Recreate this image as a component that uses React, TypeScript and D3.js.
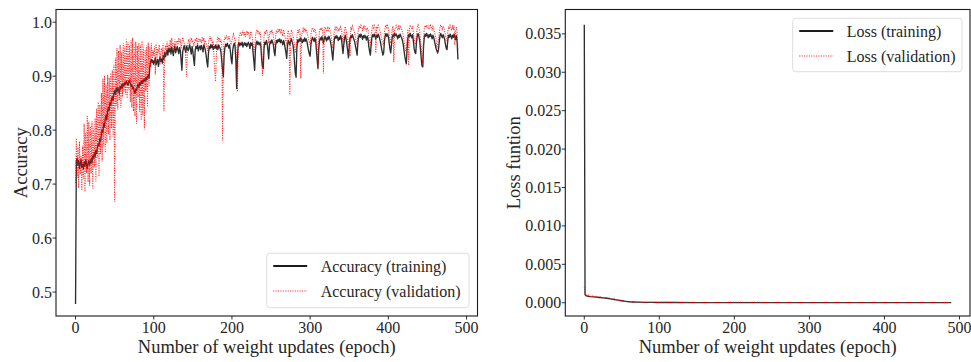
import React from 'react';
import * as d3 from 'd3';

// ---------------- DATA ----------------
const trainAcc = [
  0.478, 0.742, 0.748, 0.735, 0.744, 0.729, 0.738, 0.746, 0.731, 0.737,
  0.728, 0.741, 0.733, 0.745, 0.737, 0.729, 0.739, 0.744, 0.735, 0.741,
  0.747, 0.739, 0.752, 0.748, 0.758, 0.751, 0.763, 0.757, 0.769, 0.775,
  0.771, 0.784, 0.779, 0.792, 0.801, 0.796, 0.812, 0.806, 0.821, 0.828,
  0.819, 0.835, 0.842, 0.836, 0.851, 0.846, 0.858, 0.862, 0.855, 0.868,
  0.873, 0.866, 0.878, 0.871, 0.879, 0.874, 0.868, 0.881, 0.876, 0.884,
  0.879, 0.886, 0.882, 0.889, 0.885, 0.891, 0.887, 0.883, 0.889, 0.893,
  0.886, 0.881, 0.884, 0.877, 0.879, 0.872, 0.868, 0.876, 0.873, 0.881,
  0.885, 0.879, 0.888, 0.884, 0.891, 0.886, 0.893, 0.889, 0.895, 0.891,
  0.897, 0.893, 0.899, 0.902, 0.896, 0.918, 0.927, 0.931, 0.925, 0.929,
  0.922, 0.928, 0.934, 0.921, 0.926, 0.931, 0.918, 0.929, 0.935, 0.927,
  0.932, 0.924, 0.938, 0.931, 0.944, 0.936, 0.942, 0.948, 0.939, 0.951,
  0.945, 0.952, 0.941, 0.954, 0.947, 0.938, 0.951, 0.956, 0.943, 0.949,
  0.955, 0.948, 0.942, 0.953, 0.947, 0.929, 0.911, 0.945, 0.952, 0.957,
  0.949, 0.944, 0.956, 0.951, 0.947, 0.953, 0.958, 0.949, 0.941, 0.955,
  0.946, 0.932, 0.920, 0.948, 0.955, 0.951, 0.958, 0.947, 0.953, 0.956,
  0.949, 0.957, 0.952, 0.945, 0.958, 0.954, 0.948, 0.939, 0.926, 0.917,
  0.943, 0.955, 0.951, 0.959, 0.953, 0.957, 0.949, 0.955, 0.952, 0.958,
  0.951, 0.956, 0.949, 0.958, 0.954, 0.951, 0.943, 0.928, 0.912, 0.899,
  0.938, 0.953, 0.959, 0.955, 0.961, 0.957, 0.952, 0.958, 0.946, 0.931,
  0.923, 0.948, 0.957, 0.961, 0.955, 0.929, 0.877, 0.932, 0.958, 0.962,
  0.956, 0.961, 0.958, 0.963, 0.954, 0.959, 0.962, 0.957, 0.961, 0.955,
  0.959, 0.963, 0.958, 0.951, 0.962, 0.957, 0.961, 0.944, 0.928, 0.911,
  0.948, 0.961, 0.965, 0.959, 0.963, 0.958, 0.962, 0.955, 0.931, 0.918,
  0.914, 0.951, 0.963, 0.959, 0.966, 0.961, 0.948, 0.932, 0.957, 0.965,
  0.961, 0.967, 0.963, 0.958, 0.945, 0.938, 0.959, 0.966, 0.962, 0.968,
  0.964, 0.969, 0.962, 0.967, 0.963, 0.958, 0.966, 0.961, 0.952, 0.944,
  0.933, 0.957, 0.966, 0.962, 0.958, 0.965, 0.969, 0.963, 0.958, 0.947,
  0.925, 0.906, 0.898, 0.952, 0.967, 0.963, 0.969, 0.965, 0.971, 0.966,
  0.962, 0.968, 0.964, 0.971, 0.965, 0.969, 0.963, 0.955, 0.947, 0.941,
  0.937, 0.959, 0.967, 0.972, 0.968, 0.964, 0.971, 0.966, 0.948, 0.929,
  0.914, 0.951, 0.966, 0.971, 0.967, 0.973, 0.968, 0.961, 0.969, 0.974,
  0.969, 0.965, 0.972, 0.968, 0.974, 0.970, 0.963, 0.955, 0.942, 0.930,
  0.951, 0.968, 0.974, 0.970, 0.975, 0.971, 0.966, 0.972, 0.968, 0.975,
  0.969, 0.956, 0.942, 0.958, 0.971, 0.976, 0.968, 0.958, 0.947, 0.934,
  0.955, 0.969, 0.975, 0.971, 0.977, 0.972, 0.968, 0.963, 0.955, 0.948,
  0.939, 0.961, 0.973, 0.977, 0.972, 0.978, 0.974, 0.968, 0.975, 0.971,
  0.976, 0.972, 0.967, 0.974, 0.969, 0.955, 0.946, 0.939, 0.958, 0.972,
  0.977, 0.973, 0.978, 0.974, 0.969, 0.976, 0.972, 0.978, 0.974, 0.968,
  0.962, 0.954, 0.946, 0.939, 0.943, 0.965, 0.975, 0.979, 0.974, 0.978,
  0.973, 0.962, 0.951, 0.943, 0.958, 0.972, 0.977, 0.973, 0.979, 0.975,
  0.978, 0.974, 0.969, 0.976, 0.972, 0.978, 0.974, 0.971, 0.966, 0.959,
  0.948, 0.937, 0.929, 0.923, 0.952, 0.971, 0.977, 0.973, 0.979, 0.975,
  0.971, 0.977, 0.965, 0.951, 0.944, 0.942, 0.963, 0.975, 0.979, 0.974,
  0.966, 0.951, 0.933, 0.919, 0.917, 0.955, 0.972, 0.978, 0.974, 0.979,
  0.975, 0.971, 0.977, 0.973, 0.978, 0.974, 0.969, 0.976, 0.972, 0.965,
  0.958, 0.951, 0.947, 0.943, 0.948, 0.962, 0.974, 0.979, 0.975, 0.971,
  0.977, 0.973, 0.968, 0.959, 0.952, 0.949, 0.966, 0.976, 0.972, 0.978,
  0.974, 0.969, 0.976, 0.972, 0.978, 0.973, 0.968, 0.975, 0.962, 0.931,
];

const valAcc = [
  0.702, 0.785, 0.712, 0.768, 0.693, 0.779, 0.718, 0.752, 0.688, 0.771,
  0.709, 0.812, 0.686, 0.794, 0.721, 0.826, 0.704, 0.815, 0.697, 0.807,
  0.719, 0.816, 0.692, 0.803, 0.731, 0.822, 0.705, 0.840, 0.748, 0.852,
  0.714, 0.847, 0.756, 0.869, 0.742, 0.895, 0.771, 0.901, 0.758, 0.884,
  0.776, 0.903, 0.792, 0.897, 0.781, 0.906, 0.803, 0.912, 0.788, 0.921,
  0.667, 0.934, 0.845, 0.952, 0.838, 0.947, 0.856, 0.958, 0.841, 0.944,
  0.862, 0.961, 0.871, 0.955, 0.866, 0.968, 0.859, 0.963, 0.874, 0.957,
  0.852, 0.966, 0.842, 0.971, 0.835, 0.958, 0.826, 0.964, 0.812, 0.956,
  0.861, 0.962, 0.834, 0.958, 0.818, 0.965, 0.827, 0.953, 0.801, 0.949,
  0.872, 0.957, 0.843, 0.962, 0.881, 0.954, 0.917, 0.961, 0.926, 0.948,
  0.938, 0.955, 0.903, 0.962, 0.931, 0.951, 0.944, 0.958, 0.921, 0.947,
  0.952, 0.938, 0.961, 0.836, 0.945, 0.957, 0.939, 0.964, 0.948, 0.958,
  0.953, 0.967, 0.948, 0.971, 0.956, 0.962, 0.944, 0.968, 0.957, 0.963,
  0.966, 0.958, 0.971, 0.962, 0.968, 0.951, 0.963, 0.972, 0.966, 0.961,
  0.957, 0.932, 0.899, 0.948, 0.963, 0.969, 0.958, 0.964, 0.971, 0.962,
  0.967, 0.955, 0.961, 0.969, 0.964, 0.972, 0.958, 0.966, 0.970, 0.963,
  0.968, 0.961, 0.973, 0.965, 0.971, 0.958, 0.966, 0.962, 0.954, 0.947,
  0.962, 0.969, 0.974, 0.966, 0.971, 0.958, 0.965, 0.935, 0.912, 0.890,
  0.934, 0.967, 0.973, 0.965, 0.971, 0.962, 0.968, 0.957, 0.781, 0.944,
  0.966, 0.973, 0.968, 0.976, 0.971, 0.967, 0.974, 0.969, 0.963, 0.958,
  0.966, 0.974, 0.978, 0.971, 0.968, 0.952, 0.930, 0.871, 0.955, 0.972,
  0.978, 0.982, 0.974, 0.979, 0.985, 0.976, 0.981, 0.973, 0.978, 0.984,
  0.977, 0.982, 0.975, 0.969, 0.983, 0.978, 0.972, 0.961, 0.943, 0.952,
  0.974, 0.981, 0.986, 0.979, 0.984, 0.977, 0.982, 0.968, 0.943, 0.901,
  0.948, 0.973, 0.983, 0.978, 0.986, 0.981, 0.975, 0.961, 0.979, 0.984,
  0.978, 0.986, 0.981, 0.975, 0.962, 0.958, 0.977, 0.985, 0.980, 0.987,
  0.982, 0.988, 0.979, 0.985, 0.980, 0.974, 0.986, 0.981, 0.972, 0.964,
  0.957, 0.976, 0.985, 0.979, 0.865, 0.972, 0.986, 0.981, 0.975, 0.968,
  0.955, 0.943, 0.951, 0.972, 0.985, 0.980, 0.987, 0.983, 0.896, 0.974,
  0.982, 0.988, 0.983, 0.989, 0.984, 0.987, 0.981, 0.975, 0.968, 0.962,
  0.958, 0.977, 0.986, 0.990, 0.985, 0.981, 0.988, 0.983, 0.969, 0.951,
  0.917, 0.966, 0.984, 0.989, 0.985, 0.990, 0.986, 0.905, 0.985, 0.991,
  0.986, 0.982, 0.989, 0.985, 0.991, 0.987, 0.981, 0.973, 0.961, 0.952,
  0.968, 0.984, 0.990, 0.986, 0.992, 0.988, 0.983, 0.989, 0.985, 0.991,
  0.986, 0.975, 0.962, 0.974, 0.987, 0.992, 0.985, 0.976, 0.964, 0.955,
  0.972, 0.937, 0.991, 0.987, 0.993, 0.988, 0.984, 0.979, 0.971, 0.965,
  0.958, 0.978, 0.989, 0.993, 0.988, 0.994, 0.990, 0.984, 0.991, 0.987,
  0.992, 0.988, 0.983, 0.990, 0.985, 0.973, 0.964, 0.958, 0.975, 0.988,
  0.993, 0.989, 0.994, 0.990, 0.943, 0.992, 0.988, 0.994, 0.990, 0.985,
  0.979, 0.972, 0.965, 0.958, 0.962, 0.982, 0.991, 0.995, 0.990, 0.994,
  0.989, 0.978, 0.968, 0.961, 0.975, 0.988, 0.993, 0.926, 0.985, 0.991,
  0.994, 0.990, 0.985, 0.992, 0.988, 0.994, 0.990, 0.987, 0.982, 0.975,
  0.966, 0.957, 0.949, 0.944, 0.968, 0.987, 0.920, 0.989, 0.995, 0.991,
  0.987, 0.993, 0.981, 0.968, 0.961, 0.959, 0.979, 0.991, 0.995, 0.990,
  0.983, 0.968, 0.952, 0.938, 0.920, 0.972, 0.988, 0.994, 0.990, 0.995,
  0.991, 0.987, 0.993, 0.989, 0.994, 0.990, 0.985, 0.992, 0.988, 0.981,
  0.975, 0.968, 0.951, 0.962, 0.966, 0.979, 0.990, 0.995, 0.991, 0.987,
  0.993, 0.989, 0.984, 0.976, 0.969, 0.966, 0.982, 0.992, 0.988, 0.994,
  0.990, 0.985, 0.992, 0.988, 0.994, 0.958, 0.984, 0.991, 0.979, 0.948,
];

const lossTrainEpochs = [0, 1, 2, 3, 5, 8, 12, 16, 20, 25, 30, 35, 40, 45, 50, 55, 60, 65, 70, 80, 90, 100, 120, 150, 200, 250, 300, 350, 400, 450, 489];
const lossTrain = [0.0362, 0.00105, 0.00092, 0.00088, 0.00084, 0.0008, 0.00076, 0.00072, 0.00068, 0.00063, 0.00058, 0.0005, 0.00041, 0.00033, 0.00025, 0.00018, 0.00012, 0.00009, 0.00007, 0.00005, 0.00004, 0.00003, 0.00003, 0.00002, 0.00002, 0.00001, 0.00001, 0.00001, 0.00001, 0.00001, 0.00001];

const lossValEpochs = [0, 1, 2, 3, 4, 6, 8, 10, 12, 14, 17, 20, 23, 26, 30, 33, 36, 40, 43, 46, 50, 55, 60, 65, 70, 80, 90, 100, 110, 130, 150, 170, 190, 210, 250, 300, 350, 400, 450, 489];
const lossVal = [0.0021, 0.0013, 0.0009, 0.0011, 0.00085, 0.001, 0.0008, 0.00095, 0.00075, 0.0009, 0.0007, 0.00082, 0.00066, 0.0007, 0.00058, 0.00062, 0.0005, 0.00058, 0.00036, 0.0003, 0.00024, 0.00017, 0.00013, 0.0001, 0.00008, 0.00007, 0.00006, 0.00004, 0.00005, 0.00003, 0.00004, 0.00003, 0.00004, 0.00006, 0.00003, 0.00003, 0.00002, 0.00003, 0.00002, 0.00002];

const xTicks = [0, 100, 200, 300, 400, 500];
const accTicks = [0.5, 0.6, 0.7, 0.8, 0.9, 1.0];
const lossTicks = [0, 0.005, 0.01, 0.015, 0.02, 0.025, 0.03, 0.035];

const xLabel = 'Number of weight updates (epoch)';
const accLabels = ['Accuracy (training)', 'Accuracy (validation)'];
const lossLabels = ['Loss (training)', 'Loss (validation)'];

// ---------------- STYLE ----------------
const W = 971;
const H = 362;
const FONT = "'Liberation Serif', 'DejaVu Serif', serif";
const TEXT = '#262626';
const TRAIN_COLOR = '#1c1c1c';
const VAL_COLOR = '#ff0000';

type Pt = { x: number; y: number };

function Panel(props: {
  left: number; right: number; top: number; bottom: number;
  xDomain: [number, number]; yDomain: [number, number];
  train: Pt[]; val: Pt[]; yTicks: number[]; yFmt: (v: number) => string;
  yLabel: string; yLabelX: number; legend: string[];
  legendBox: { x: number; y: number; w: number; h: number };
}) {
  const { left, right, top, bottom, xDomain, yDomain, train, val, yTicks, yFmt, yLabel, yLabelX, legend, legendBox } = props;
  const x = d3.scaleLinear().domain(xDomain).range([left, right]);
  const y = d3.scaleLinear().domain(yDomain).range([bottom, top]);
  const line = d3.line<Pt>().x(d => x(d.x)).y(d => y(d.y));
  const clipId = `clip-${Math.round(left)}`;
  const lb = legendBox;
  const hx0 = lb.x + 6.5;
  const hx1 = lb.x + 40.5;
  const tx = lb.x + 54;
  const r1 = lb.y + 12.7;
  const r2 = lb.y + 37.7;
  return (
    <g>
      <defs>
        <clipPath id={clipId}>
          <rect x={left} y={top} width={right - left} height={bottom - top} />
        </clipPath>
      </defs>
      <g clipPath={`url(#${clipId})`}>
        <path d={line(train) || ''} fill="none" stroke={TRAIN_COLOR} strokeWidth={1.35} strokeOpacity={0.92} strokeLinejoin="round" />
        <path d={line(val) || ''} fill="none" stroke={VAL_COLOR} strokeWidth={1.05} strokeOpacity={0.85} strokeDasharray="1.1 1.3" />
      </g>
      <rect x={left} y={top} width={right - left} height={bottom - top} fill="none" stroke="#1a1a1a" strokeWidth={1.1} />
      {xTicks.map(t => (
        <g key={`x${t}`}>
          <line x1={x(t)} x2={x(t)} y1={bottom} y2={bottom + 3.5} stroke="#1a1a1a" strokeWidth={0.9} />
          <text x={x(t)} y={bottom + 16.5} textAnchor="middle" fontSize={16} fontFamily={FONT} fill={TEXT}>{t}</text>
        </g>
      ))}
      {yTicks.map(t => (
        <g key={`y${t}`}>
          <line x1={left - 3.5} x2={left} y1={y(t)} y2={y(t)} stroke="#1a1a1a" strokeWidth={0.9} />
          <text x={left - 4} y={y(t) + 5.5} textAnchor="end" fontSize={16} fontFamily={FONT} fill={TEXT}>{yFmt(t)}</text>
        </g>
      ))}
      <text x={(left + right) / 2} y={353} textAnchor="middle" fontSize={18.5} fontFamily={FONT} fill={TEXT}>{xLabel}</text>
      <text transform={`translate(${yLabelX},${(top + bottom) / 2}) rotate(-90)`} textAnchor="middle" fontSize={18.5} fontFamily={FONT} fill={TEXT}>{yLabel}</text>
      <rect x={lb.x} y={lb.y} width={lb.w} height={lb.h} rx={3} fill="#ffffff" fillOpacity={0.8} stroke="#d9d9d9" strokeWidth={0.9} />
      <line x1={hx0} x2={hx1} y1={r1} y2={r1} stroke={TRAIN_COLOR} strokeWidth={2.1} />
      <line x1={hx0} x2={hx1} y1={r2} y2={r2} stroke={VAL_COLOR} strokeWidth={1.05} strokeOpacity={0.85} strokeDasharray="1.1 1.3" />
      <text x={tx} y={r1 + 5.5} fontSize={16} fontFamily={FONT} fill={TEXT}>{legend[0]}</text>
      <text x={tx} y={r2 + 5.5} fontSize={16} fontFamily={FONT} fill={TEXT}>{legend[1]}</text>
    </g>
  );
}

export default function App() {
  const accTrainPts = trainAcc.map((v, i) => ({ x: i, y: v }));
  const accValPts = valAcc.map((v, i) => ({ x: i, y: v }));
  const lossTrainPts = lossTrain.map((v, i) => ({ x: lossTrainEpochs[i], y: v }));
  const lossValPts = lossVal.map((v, i) => ({ x: lossValEpochs[i], y: v }));
  return (
    <svg width={W} height={H} viewBox={`0 0 ${W} ${H}`} style={{ position: 'absolute', left: 0, top: 0, background: '#fff' }}>
      <rect x={0} y={0} width={W} height={H} fill="#fff" />
      <Panel
        left={56} right={477.5} top={9.5} bottom={316}
        xDomain={[-25, 514]} yDomain={[0.4556, 1.0235]}
        train={accTrainPts} val={accValPts}
        yTicks={accTicks} yFmt={d3.format('.1f')}
        yLabel="Accuracy" yLabelX={26.5}
        legend={accLabels}
        legendBox={{ x: 266.7, y: 253.3, w: 202.3, h: 54.4 }}
      />
      <Panel
        left={565.3} right={970} top={9.5} bottom={316}
        xDomain={[-25.3, 514]} yDomain={[-0.00173, 0.03817]}
        train={lossTrainPts} val={lossValPts}
        yTicks={lossTicks} yFmt={d3.format('.3f')}
        yLabel="Loss funtion" yLabelX={519.5}
        legend={lossLabels}
        legendBox={{ x: 792.7, y: 18.3, w: 169.3, h: 53.4 }}
      />
    </svg>
  );
}
